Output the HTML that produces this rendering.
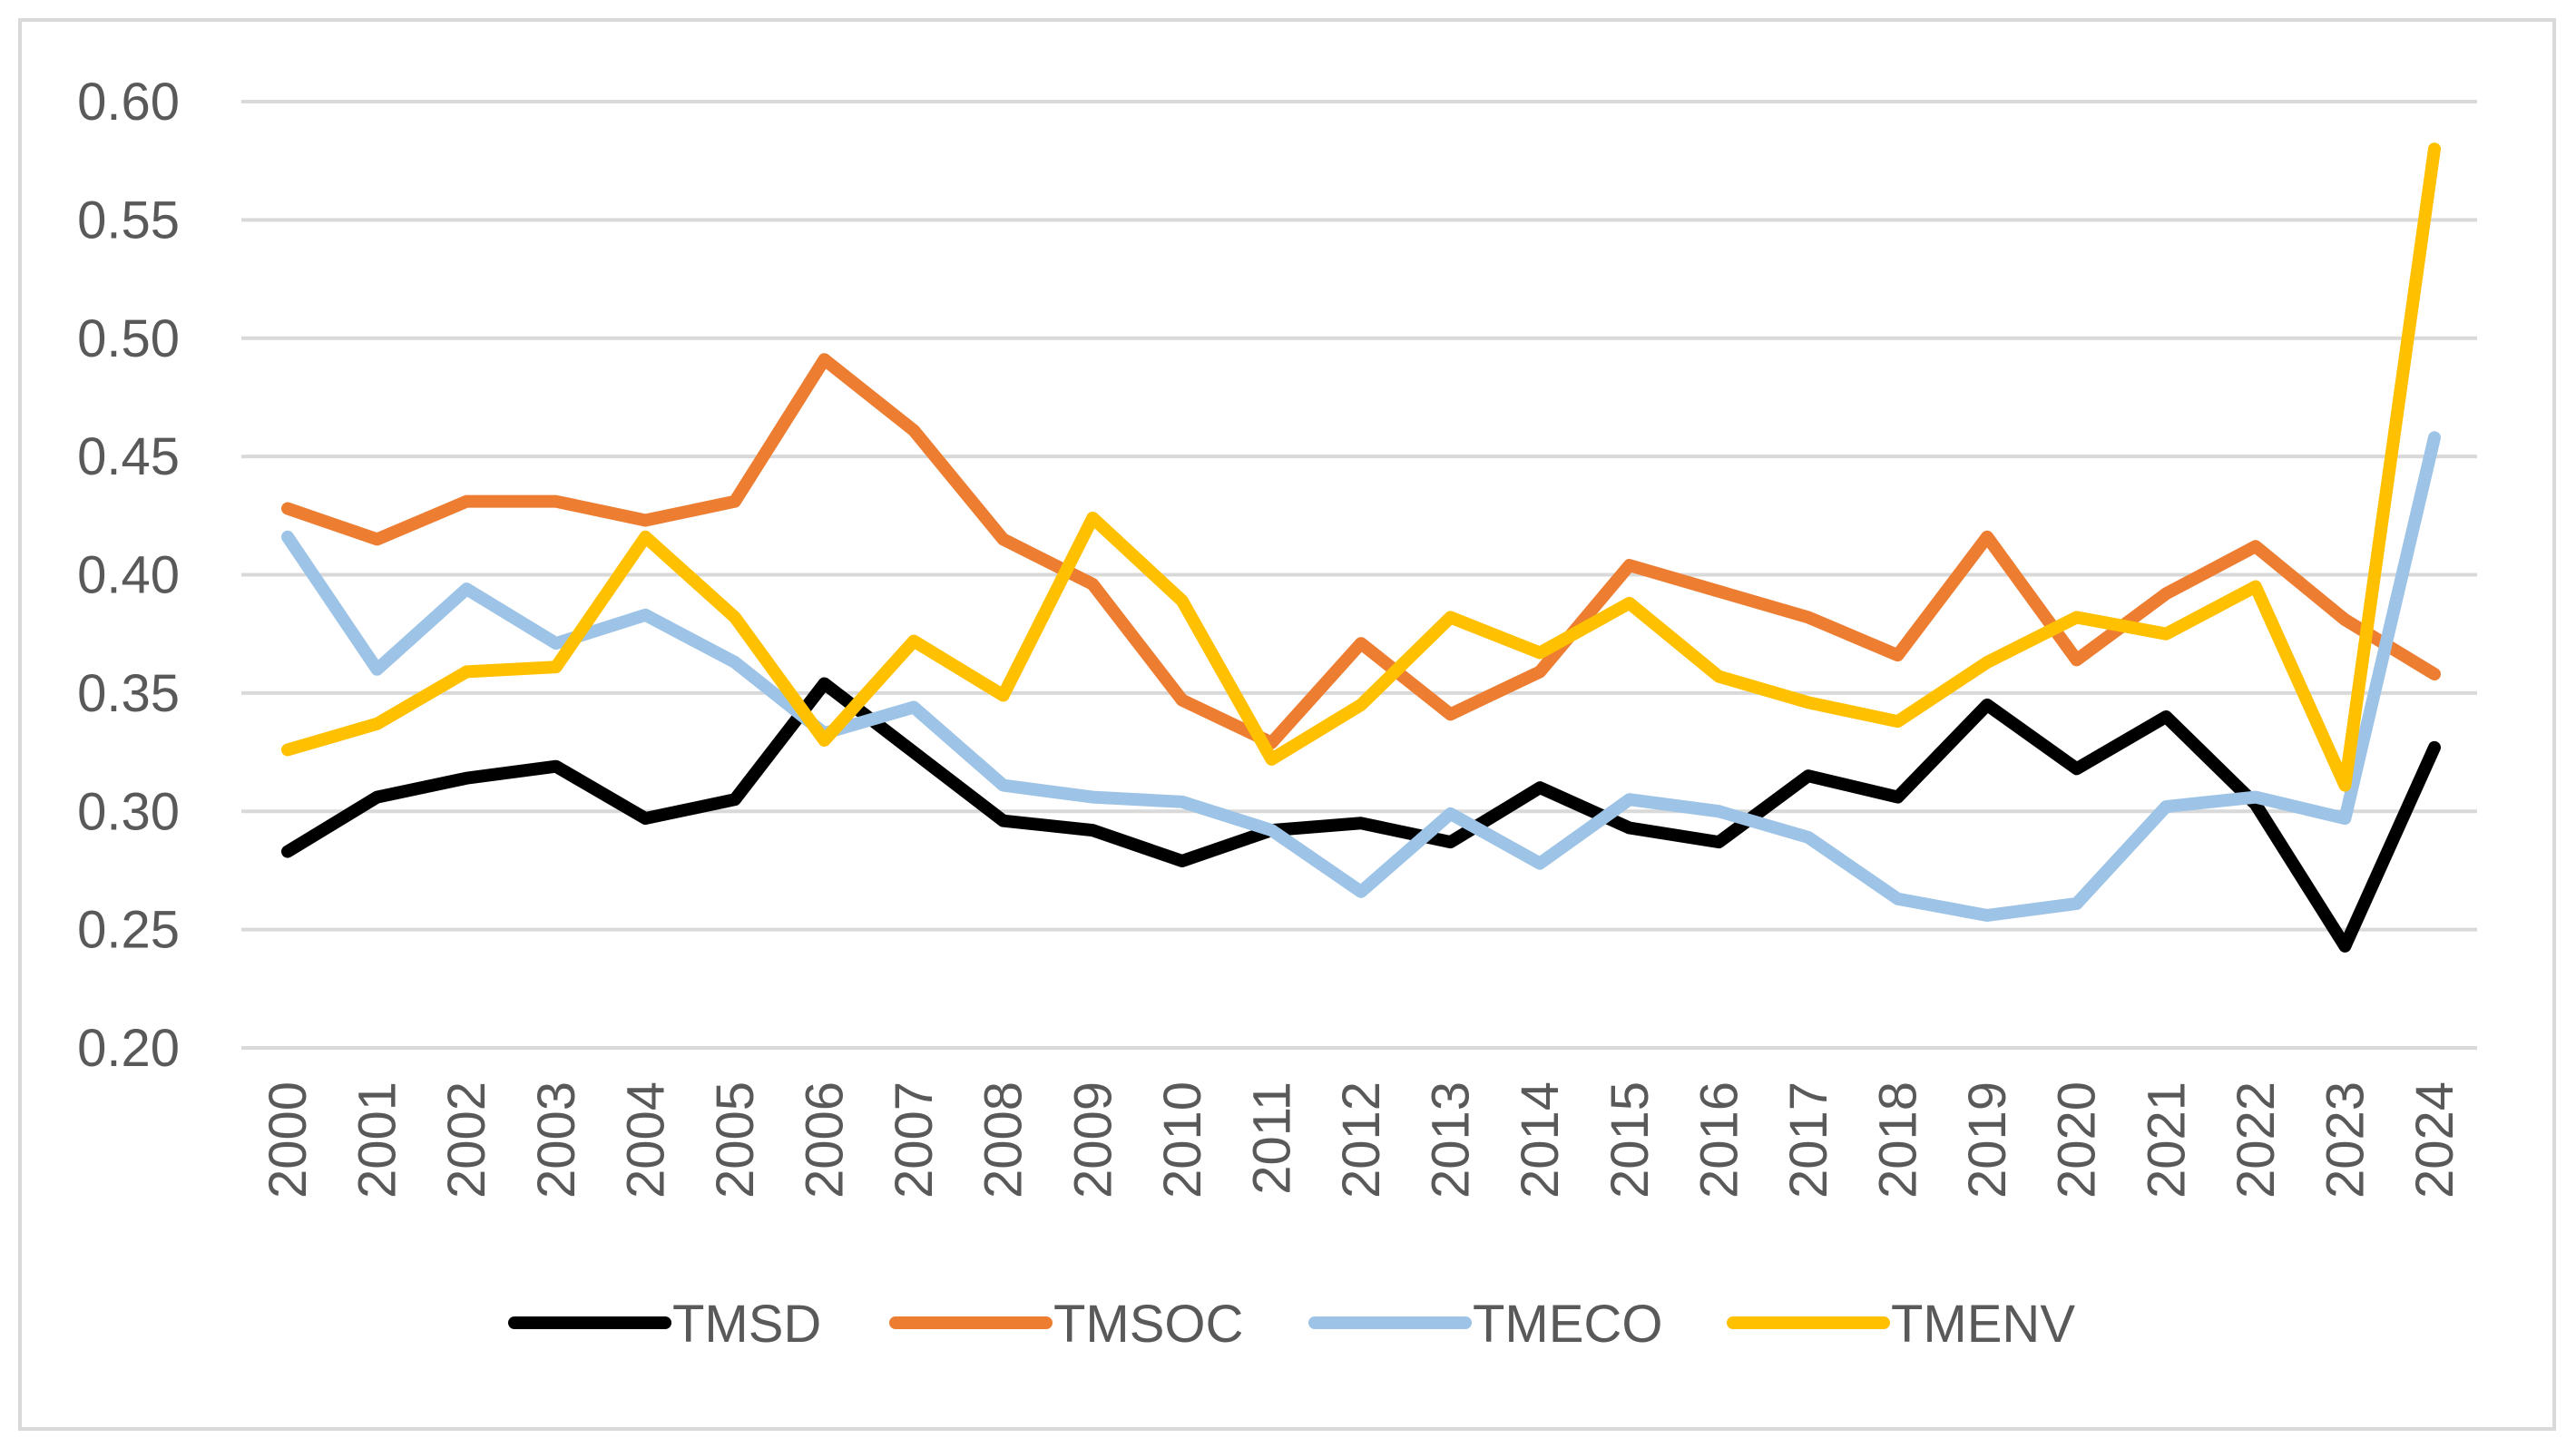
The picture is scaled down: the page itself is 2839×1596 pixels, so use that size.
<!DOCTYPE html>
<html><head><meta charset="utf-8"><style>
html,body{margin:0;padding:0;background:#fff;}
svg{display:block;font-family:"Liberation Sans",sans-serif;}
</style></head><body>
<svg id="chart" width="2839" height="1596" viewBox="0 0 2839 1596" xmlns="http://www.w3.org/2000/svg">
<rect x="22" y="22" width="2793" height="1553" fill="#fff" stroke="#d9d9d9" stroke-width="4"/>
<g id="grid"></g><g id="yticks"></g><g id="xticks"></g><g id="series"></g><g id="legend"></g>
</svg>
<script>
const years=["2000","2001","2002","2003","2004","2005","2006","2007","2008","2009","2010","2011","2012","2013","2014","2015","2016","2017","2018","2019","2020","2021","2022","2023","2024"];
const yTicks=[0.20,0.25,0.30,0.35,0.40,0.45,0.50,0.55,0.60];
const seriesNames=["TMSD","TMSOC","TMECO","TMENV"];
const seriesColors=["#000000","#ed7d31","#9dc3e6","#ffc000"];
const tmsd=[0.283,0.306,0.314,0.319,0.297,0.305,0.354,0.325,0.296,0.292,0.279,0.292,0.295,0.287,0.310,0.293,0.287,0.315,0.306,0.345,0.318,0.340,0.303,0.243,0.327];
const tmsoc=[0.428,0.415,0.431,0.431,0.423,0.431,0.491,0.461,0.415,0.396,0.347,0.329,0.371,0.341,0.359,0.404,0.393,0.382,0.366,0.416,0.364,0.392,0.412,0.381,0.358];
const tmeco=[0.416,0.360,0.394,0.371,0.383,0.363,0.333,0.344,0.311,0.306,0.304,0.292,0.266,0.299,0.278,0.305,0.300,0.289,0.263,0.256,0.261,0.302,0.306,0.297,0.458];
const tmenv=[0.326,0.337,0.359,0.361,0.416,0.382,0.330,0.372,0.349,0.424,0.389,0.322,0.345,0.382,0.367,0.388,0.357,0.346,0.338,0.363,0.382,0.375,0.395,0.311,0.580];
const allSeries=[tmsd,tmsoc,tmeco,tmenv];
const NS="http://www.w3.org/2000/svg";
const yMin=0.20,yMax=0.60,yTop=112,yBot=1155,xL=317,xR=2683,gL=266,gR=2730;
const yS=v=>yBot-(v-yMin)/(yMax-yMin)*(yBot-yTop);
const xS=i=>xL+i*(xR-xL)/(years.length-1);
function mk(t,a,p){const e=document.createElementNS(NS,t);for(const k in a)e.setAttribute(k,a[k]);p.appendChild(e);return e;}
const grid=document.getElementById('grid'),yt=document.getElementById('yticks'),xt=document.getElementById('xticks'),sg=document.getElementById('series'),lg=document.getElementById('legend');
yTicks.forEach(v=>{
 const l=mk('line',{x1:gL,x2:gR,y1:yS(v),y2:yS(v),stroke:'#d9d9d9','stroke-width':4},grid);
 
 
 const t=mk('text',{x:198,y:yS(v)+20,'text-anchor':'end','font-size':58,fill:'#595959'},yt);
 t.textContent=v.toFixed(2);
 
 
});
years.forEach((y,i)=>{
 const t=mk('text',{x:0,y:0,'text-anchor':'end','font-size':58,fill:'#595959',transform:`translate(${xS(i)+20},1192) rotate(-90)`},xt);
 t.textContent=y;
 
 
});
allSeries.forEach((s,k)=>{
 const p=mk('polyline',{points:s.map((v,i)=>xS(i)+','+yS(v)).join(' '),fill:'none',stroke:seriesColors[k],'stroke-width':14,'stroke-linejoin':'round','stroke-linecap':'round'},sg);
 
 
});
const legX=[567,987,1449,1910];
seriesNames.forEach((n,k)=>{
 const g=mk('g',{},lg);
 
 
 mk('line',{x1:legX[k],x2:legX[k]+166,y1:1458,y2:1458,stroke:seriesColors[k],'stroke-width':14,'stroke-linecap':'round'},g);
 const t=mk('text',{x:legX[k]+174,y:1479,'font-size':58,fill:'#595959'},g);
 t.textContent=n;
});
</script>
</body></html>
